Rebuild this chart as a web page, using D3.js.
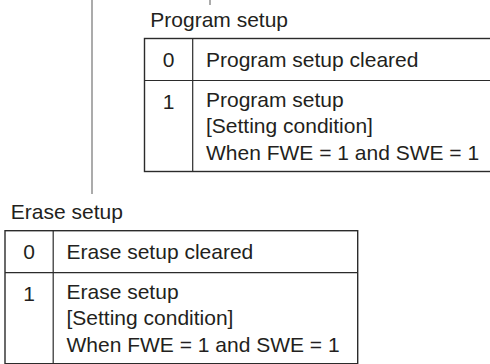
<!DOCTYPE html>
<html>
<head>
<meta charset="utf-8">
<script src="https://cdn.jsdelivr.net/npm/d3@7"></script>
<style>
  html, body { margin: 0; padding: 0; background: #fff; }
  svg { display: block; }
  text { font-family: "Liberation Sans", Arial, Helvetica, sans-serif; font-size: 21px; fill: #231f20; }
</style>
</head>
<body>
<svg id="chart" width="490" height="364"></svg>
<script>
// ---- data ----
const tableTitles = ["Program setup", "Erase setup"];
const bitValues = ["0", "1"];
const programDescriptions = [
  ["Program setup cleared"],
  ["Program setup", "[Setting condition]", "When FWE = 1 and SWE = 1"]
];
const eraseDescriptions = [
  ["Erase setup cleared"],
  ["Erase setup", "[Setting condition]", "When FWE = 1 and SWE = 1"]
];

// ---- layout ----
const svg = d3.select("#chart");
const W = 490, H = 364;
const tableOrigins = [[144.5, 38.5], [5, 230.7]];
const tableWidth = 352.7;
const colWidth = 48.2;
const textInset = 61.5;
const lineStep = 26.5;
const rowPad = 17.5;
const lineColor = "#2b2b2b";

// connector lines
svg.append("line").attr("x1", 92).attr("x2", 92).attr("y1", 0).attr("y2", 194)
  .attr("stroke", "#666").attr("stroke-width", 1.1);
svg.append("line").attr("x1", 210).attr("x2", 210).attr("y1", 0).attr("y2", 5)
  .attr("stroke", "#666").attr("stroke-width", 1.1);

function drawTable(title, descs, origin) {
  const [x0, y0] = origin;
  const g = svg.append("g").attr("transform", `translate(${x0},${y0})`);
  const heights = descs.map(d => rowPad + d.length * 24.5);
  const tops = heights.map((h, i) => d3.sum(heights.slice(0, i)));
  const total = d3.sum(heights);
  const y = d3.scaleLinear().domain([0, total]).range([0, total]);

  g.append("text").attr("x", 5.8).attr("y", -12).text(title);

  // rows
  const rows = g.selectAll("g.row").data(descs).join("g")
    .attr("class", "row")
    .attr("transform", (d, i) => `translate(0,${y(tops[i])})`);

  rows.append("text")
    .attr("x", colWidth / 2).attr("y", 28.8)
    .attr("text-anchor", "middle")
    .text((d, i) => bitValues[i]);

  rows.each(function (d, i) {
    d3.select(this).selectAll("text.line").data(d).join("text")
      .attr("class", "line")
      .attr("x", textInset)
      .attr("y", (t, j) => (i === 0 ? 28.8 : 26.3) + j * lineStep)
      .text(t => t);
  });

  // borders
  g.append("rect").attr("x", 0).attr("y", 0).attr("width", tableWidth).attr("height", y(total))
    .attr("fill", "none").attr("stroke", lineColor).attr("stroke-width", 1.4);
  g.append("line").attr("x1", colWidth).attr("x2", colWidth).attr("y1", 0).attr("y2", y(total))
    .attr("stroke", lineColor).attr("stroke-width", 1.2);
  tops.slice(1).forEach(t => {
    g.append("line").attr("x1", 0).attr("x2", tableWidth).attr("y1", y(t)).attr("y2", y(t))
      .attr("stroke", lineColor).attr("stroke-width", 1.2);
  });
}

drawTable(tableTitles[0], programDescriptions, tableOrigins[0]);
drawTable(tableTitles[1], eraseDescriptions, tableOrigins[1]);
</script>
</body>
</html>
